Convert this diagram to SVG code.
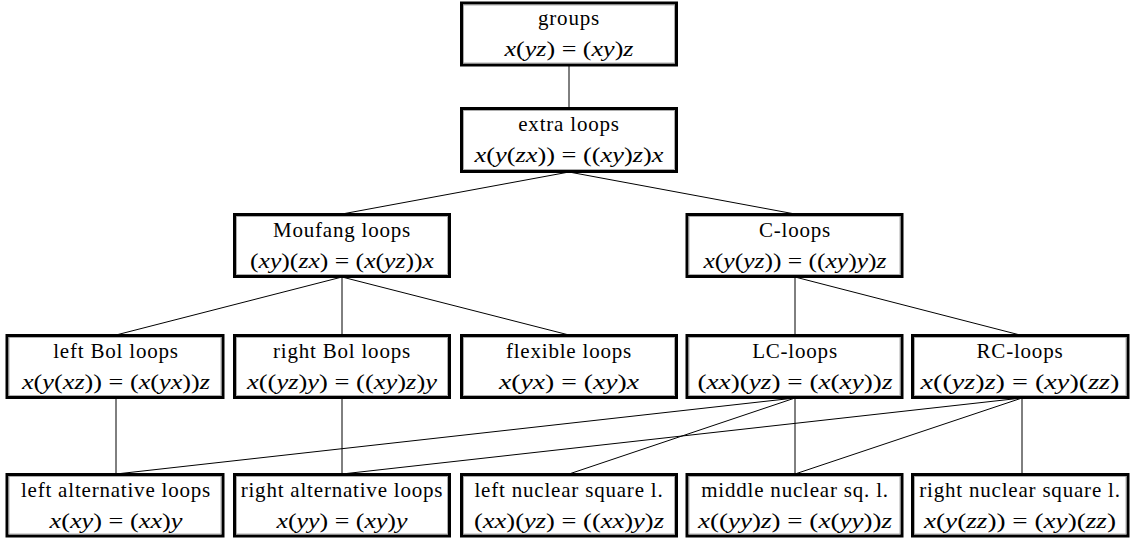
<svg xmlns="http://www.w3.org/2000/svg" width="1131" height="541" viewBox="0 0 1131 541">
<style>
.box{fill:#fff;stroke:#000;stroke-width:3}
.inner{fill:none;stroke:#999;stroke-width:0.8}
.t{font-size:21px;letter-spacing:0.8px;fill:#000;text-anchor:middle}
.m{font-size:21px;fill:#000;text-anchor:middle}
.v{font-style:italic}
.e line{stroke:#000;stroke-width:1}
</style>
<rect width="1131" height="541" fill="#fff"/>
<g class="e">
<line x1="569" y1="65" x2="569" y2="108"/>
<line x1="569" y1="172" x2="342" y2="214"/>
<line x1="569" y1="172" x2="795" y2="214"/>
<line x1="342" y1="277" x2="116" y2="335"/>
<line x1="342" y1="277" x2="342" y2="335"/>
<line x1="342" y1="277" x2="569" y2="335"/>
<line x1="795" y1="277" x2="795" y2="335"/>
<line x1="795" y1="277" x2="1020" y2="335"/>
<line x1="116" y1="398" x2="116" y2="474"/>
<line x1="342" y1="398" x2="342" y2="474"/>
<line x1="795" y1="398" x2="116" y2="474"/>
<line x1="795" y1="398" x2="569" y2="474"/>
<line x1="795" y1="398" x2="795" y2="474"/>
<line x1="1022" y1="398" x2="342" y2="474"/>
<line x1="1022" y1="398" x2="795" y2="474"/>
<line x1="1022" y1="398" x2="1022" y2="474"/>
</g>
<g id="groups">
<rect class="box" x="461.5" y="3" width="215" height="62"/>
<rect class="inner" x="463.5" y="5" width="211" height="58"/>
<text class="t" font-family="Liberation Serif" x="569" y="25">groups</text>
<text class="m" font-family="Liberation Serif" x="569" y="56" textLength="129" lengthAdjust="spacingAndGlyphs"><tspan class="v">x</tspan>(<tspan class="v">yz</tspan>) = (<tspan class="v">xy</tspan>)<tspan class="v">z</tspan></text>
</g>
<g id="extra">
<rect class="box" x="461.5" y="108.5" width="215" height="63"/>
<rect class="inner" x="463.5" y="110.5" width="211" height="59"/>
<text class="t" font-family="Liberation Serif" x="569" y="131">extra loops</text>
<text class="m" font-family="Liberation Serif" x="569" y="162" textLength="189" lengthAdjust="spacingAndGlyphs"><tspan class="v">x</tspan>(<tspan class="v">y</tspan>(<tspan class="v">zx</tspan>)) = ((<tspan class="v">xy</tspan>)<tspan class="v">z</tspan>)<tspan class="v">x</tspan></text>
</g>
<g id="moufang">
<rect class="box" x="234.5" y="214.5" width="215" height="62"/>
<rect class="inner" x="236.5" y="216.5" width="211" height="58"/>
<text class="t" font-family="Liberation Serif" x="342" y="237">Moufang loops</text>
<text class="m" font-family="Liberation Serif" x="342" y="268" textLength="184" lengthAdjust="spacingAndGlyphs">(<tspan class="v">xy</tspan>)(<tspan class="v">zx</tspan>) = (<tspan class="v">x</tspan>(<tspan class="v">yz</tspan>))<tspan class="v">x</tspan></text>
</g>
<g id="cloops">
<rect class="box" x="687" y="214.5" width="215" height="62"/>
<rect class="inner" x="689" y="216.5" width="211" height="58"/>
<text class="t" font-family="Liberation Serif" x="795" y="237">C-loops</text>
<text class="m" font-family="Liberation Serif" x="795" y="268" textLength="183" lengthAdjust="spacingAndGlyphs"><tspan class="v">x</tspan>(<tspan class="v">y</tspan>(<tspan class="v">yz</tspan>)) = ((<tspan class="v">xy</tspan>)<tspan class="v">y</tspan>)<tspan class="v">z</tspan></text>
</g>
<g id="leftbol">
<rect class="box" x="7" y="335.5" width="216" height="62"/>
<rect class="inner" x="9" y="337.5" width="212" height="58"/>
<text class="t" font-family="Liberation Serif" x="116" y="358">left Bol loops</text>
<text class="m" font-family="Liberation Serif" x="116" y="389" textLength="188" lengthAdjust="spacingAndGlyphs"><tspan class="v">x</tspan>(<tspan class="v">y</tspan>(<tspan class="v">xz</tspan>)) = (<tspan class="v">x</tspan>(<tspan class="v">yx</tspan>))<tspan class="v">z</tspan></text>
</g>
<g id="rightbol">
<rect class="box" x="234.5" y="335.5" width="215" height="62"/>
<rect class="inner" x="236.5" y="337.5" width="211" height="58"/>
<text class="t" font-family="Liberation Serif" x="342" y="358">right Bol loops</text>
<text class="m" font-family="Liberation Serif" x="342" y="389" textLength="190" lengthAdjust="spacingAndGlyphs"><tspan class="v">x</tspan>((<tspan class="v">yz</tspan>)<tspan class="v">y</tspan>) = ((<tspan class="v">xy</tspan>)<tspan class="v">z</tspan>)<tspan class="v">y</tspan></text>
</g>
<g id="flexible">
<rect class="box" x="461.5" y="335.5" width="215" height="62"/>
<rect class="inner" x="463.5" y="337.5" width="211" height="58"/>
<text class="t" font-family="Liberation Serif" x="569" y="358">flexible loops</text>
<text class="m" font-family="Liberation Serif" x="569" y="389" textLength="140" lengthAdjust="spacingAndGlyphs"><tspan class="v">x</tspan>(<tspan class="v">yx</tspan>) = (<tspan class="v">xy</tspan>)<tspan class="v">x</tspan></text>
</g>
<g id="lcloops">
<rect class="box" x="687" y="335.5" width="215" height="62"/>
<rect class="inner" x="689" y="337.5" width="211" height="58"/>
<text class="t" font-family="Liberation Serif" x="795" y="358">LC-loops</text>
<text class="m" font-family="Liberation Serif" x="795" y="389" textLength="195" lengthAdjust="spacingAndGlyphs">(<tspan class="v">xx</tspan>)(<tspan class="v">yz</tspan>) = (<tspan class="v">x</tspan>(<tspan class="v">xy</tspan>))<tspan class="v">z</tspan></text>
</g>
<g id="rcloops">
<rect class="box" x="912.5" y="335.5" width="215.5" height="62"/>
<rect class="inner" x="914.5" y="337.5" width="211.5" height="58"/>
<text class="t" font-family="Liberation Serif" x="1020" y="358">RC-loops</text>
<text class="m" font-family="Liberation Serif" x="1020" y="389" textLength="199" lengthAdjust="spacingAndGlyphs"><tspan class="v">x</tspan>((<tspan class="v">yz</tspan>)<tspan class="v">z</tspan>) = (<tspan class="v">xy</tspan>)(<tspan class="v">zz</tspan>)</text>
</g>
<g id="leftalt">
<rect class="box" x="7" y="474.5" width="216" height="61.5"/>
<rect class="inner" x="9" y="476.5" width="212" height="57.5"/>
<text class="t" font-family="Liberation Serif" x="116" y="497">left alternative loops</text>
<text class="m" font-family="Liberation Serif" x="116" y="528" textLength="133" lengthAdjust="spacingAndGlyphs"><tspan class="v">x</tspan>(<tspan class="v">xy</tspan>) = (<tspan class="v">xx</tspan>)<tspan class="v">y</tspan></text>
</g>
<g id="rightalt">
<rect class="box" x="234.5" y="474.5" width="215" height="61.5"/>
<rect class="inner" x="236.5" y="476.5" width="211" height="57.5"/>
<text class="t" font-family="Liberation Serif" x="342" y="497">right alternative loops</text>
<text class="m" font-family="Liberation Serif" x="342" y="528" textLength="131" lengthAdjust="spacingAndGlyphs"><tspan class="v">x</tspan>(<tspan class="v">yy</tspan>) = (<tspan class="v">xy</tspan>)<tspan class="v">y</tspan></text>
</g>
<g id="leftnuc">
<rect class="box" x="461.5" y="474.5" width="215" height="61.5"/>
<rect class="inner" x="463.5" y="476.5" width="211" height="57.5"/>
<text class="t" font-family="Liberation Serif" x="569" y="497">left nuclear square l.</text>
<text class="m" font-family="Liberation Serif" x="569" y="528" textLength="190" lengthAdjust="spacingAndGlyphs">(<tspan class="v">xx</tspan>)(<tspan class="v">yz</tspan>) = ((<tspan class="v">xx</tspan>)<tspan class="v">y</tspan>)<tspan class="v">z</tspan></text>
</g>
<g id="middlenuc">
<rect class="box" x="687" y="474.5" width="215" height="61.5"/>
<rect class="inner" x="689" y="476.5" width="211" height="57.5"/>
<text class="t" font-family="Liberation Serif" x="795" y="497">middle nuclear sq. l.</text>
<text class="m" font-family="Liberation Serif" x="795" y="528" textLength="194" lengthAdjust="spacingAndGlyphs"><tspan class="v">x</tspan>((<tspan class="v">yy</tspan>)<tspan class="v">z</tspan>) = (<tspan class="v">x</tspan>(<tspan class="v">yy</tspan>))<tspan class="v">z</tspan></text>
</g>
<g id="rightnuc">
<rect class="box" x="912.5" y="474.5" width="215.5" height="61.5"/>
<rect class="inner" x="914.5" y="476.5" width="211.5" height="57.5"/>
<text class="t" font-family="Liberation Serif" x="1020" y="497">right nuclear square l.</text>
<text class="m" font-family="Liberation Serif" x="1020" y="528" textLength="192" lengthAdjust="spacingAndGlyphs"><tspan class="v">x</tspan>(<tspan class="v">y</tspan>(<tspan class="v">zz</tspan>)) = (<tspan class="v">xy</tspan>)(<tspan class="v">zz</tspan>)</text>
</g>
</svg>
